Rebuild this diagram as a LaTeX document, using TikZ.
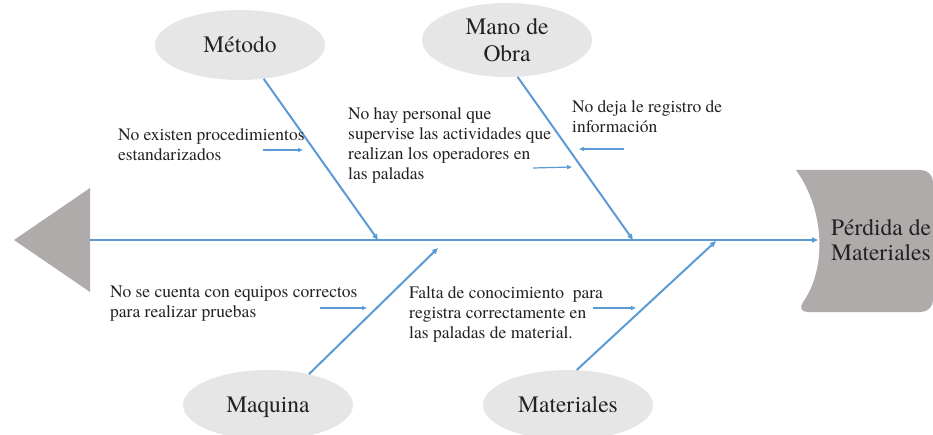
\documentclass[tikz,border=0pt]{standalone}
\usepackage{fontspec}
\IfFontExistsTF{texgyretermes-regular.otf}{%
  \setmainfont{texgyretermes-regular.otf}
  \def\bigsz{\fontsize{23.5}{27}\selectfont}\def\headsz{\fontsize{23.5}{25}\selectfont}
  \def\notesz{\fontsize{17.5}{20}\selectfont}}{%
  \def\bigsz{\fontsize{21.5}{27}\selectfont}\def\headsz{\fontsize{21.5}{25}\selectfont}
  \def\notesz{\fontsize{17.8}{20}\selectfont}}
\usetikzlibrary{shapes.geometric,arrows.meta}
\definecolor{bonecol}{HTML}{5B9BD5}
\definecolor{ellfill}{HTML}{E7E6E6}
\definecolor{headgray}{HTML}{AEABAA}
\definecolor{txt}{HTML}{222222}
\tikzset{
  cause/.style={ellipse, fill=ellfill, minimum width=170pt, minimum height=70pt, inner sep=0pt,
    text=txt, font=\bigsz, align=center},
  bone/.style={draw=bonecol, line width=2pt, -{Triangle[length=6pt,width=5pt]}},
  smallarr/.style={draw=bonecol, line width=1.2pt, -{Triangle[length=5pt,width=4pt]}},
  note/.style={anchor=north west, inner sep=0pt, align=left, text=txt, font=\notesz},
}
\begin{document}
\begin{tikzpicture}[x=1pt,y=-1pt]
\useasboundingbox (0,0) rectangle (933,435);
% tail
\fill[headgray] (14,240) -- (90,188) -- (90,292) -- cycle;
% head
\fill[headgray, rounded corners=12pt] (796,170) -- (933,170) -- (933,312) -- (796,312)
  .. controls (826,270) and (826,212) .. (796,170);
\node[text=txt, font=\headsz, align=center, inner sep=0pt] (efecto) at (881,240) {Pérdida de\\Materiales};
% spine
\coordinate (s0) at (90,240);
\coordinate (s1) at (818,240);
\draw[bone] (s0) -- (s1);
% causes
\node[cause] (metodo) at (240,45) {Método};
\node[cause, minimum height=74pt] (mano) at (507,40) {Mano de\\Obra};
\node[cause, text depth=0pt] (maquina) at (268,405) {Maquina};
\node[cause] (materiales) at (568,405) {Materiales};
% spine ends of bones
\coordinate (m1) at (378,240);
\coordinate (m2) at (633,240);
\coordinate (m3) at (438,248);
\coordinate (m4) at (716,241);
\draw[bone] (metodo.305) -- (m1);
\draw[bone] (mano.286) -- (m2);
\draw[bone] (maquina.37) -- (m3);
\draw[bone] (materiales.76) -- (m4);
% notes
\node[note] (n1) at (118,128) {No existen procedimientos\\estandarizados};
\node[note] (n2) at (348,107) {No hay personal que\\supervise las actividades que\\realizan los operadores en\\las paladas};
\node[note] (n3) at (572,100) {No deja le registro de\\información};
\node[note] (n4) at (110,286) {No se cuenta con equipos correctos\\para realizar pruebas};
\node[note] (n5) at (409,286) {Falta de conocimiento\ \ para\\registra correctamente en\\las paladas de material.};
% small arrows
\coordinate (a1s) at (263,150); \coordinate (a1e) at (303,150);
\coordinate (a2s) at (533,168); \coordinate (a2e) at (572,167);
\coordinate (a3s) at (624,149); \coordinate (a3e) at (579,149);
\coordinate (a4s) at (320,308); \coordinate (a4e) at (367,308);
\coordinate (a5s) at (593,308); \coordinate (a5e) at (636,308);
\draw[smallarr] (a1s) -- (a1e);
\draw[smallarr] (a2s) -- (a2e);
\draw[smallarr] (a3s) -- (a3e);
\draw[smallarr] (a4s) -- (a4e);
\draw[smallarr] (a5s) -- (a5e);
\end{tikzpicture}
\end{document}
